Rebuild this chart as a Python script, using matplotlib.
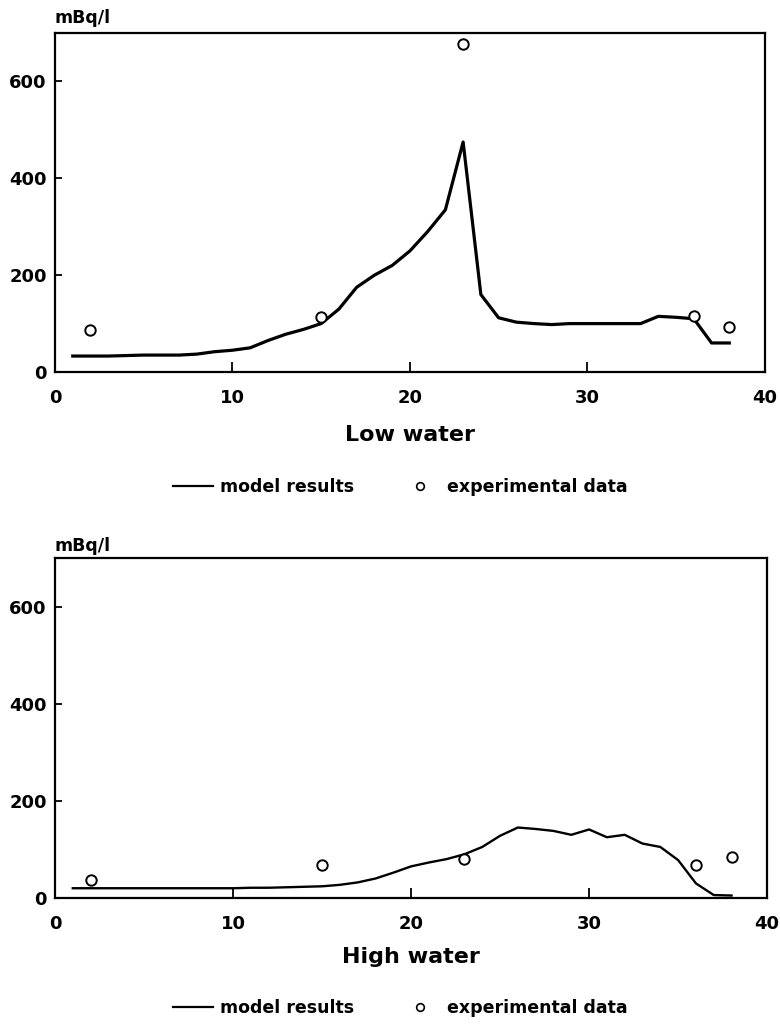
import matplotlib
matplotlib.use("Agg")
import matplotlib.pyplot as plt
from matplotlib.lines import Line2D

plt.rcParams['font.family'] = ['DejaVu Sans']
plt.rcParams['font.weight'] = 'bold'

# ---- data ----
model_x = list(range(1, 39))
low_model = [33, 33, 33, 34, 35, 35, 35, 37, 42, 45, 50, 65, 78, 88, 100, 130, 175, 200, 220,
             250, 290, 335, 475, 160, 112, 103, 100, 98, 100, 100, 100, 100, 100, 115, 113, 110, 60, 60]
high_model = [20, 20, 20, 20, 20, 20, 20, 20, 20, 20, 21, 21, 22, 23, 24, 27, 32, 40, 52,
              65, 73, 80, 90, 105, 128, 145, 142, 138, 130, 141, 125, 130, 112, 105, 78, 30, 6, 5]
exp_x = [2, 15, 23, 36, 38]
low_exp = [87, 113, 678, 116, 93]
high_exp = [37, 68, 80, 68, 84]
panel_titles = ["Low water", "High water"]
legend_labels = ["model results", "experimental data"]
x_ticks = [0, 10, 20, 30, 40]
y_ticks = [0, 200, 400, 600]
y_unit = "mBq/l"

W, H = 780, 1026
fig = plt.figure(figsize=(W / 100, H / 100), dpi=100)
positions = [[0.0705, 0.6374, 0.910, 0.3304], [0.0705, 0.1248, 0.913, 0.3314]]
models = [low_model, high_model]
exps = [low_exp, high_exp]
legend_px = [(173, 487), (173, 1008)]
unit_px = [(54, 18), (54, 546)]
line_w = [2.3, 1.7]
title_pad = [13, 10]

for i in range(2):
    ax = fig.add_axes(positions[i])
    ax.plot(model_x, models[i], color='black', lw=line_w[i], solid_joinstyle='round')
    ax.plot(exp_x, exps[i], linestyle='none', marker='o', markersize=7.5,
            markerfacecolor='white', markeredgecolor='black', markeredgewidth=1.4)
    ax.set_xlim(0, 40)
    ax.set_ylim(0, 700)
    ax.set_xticks(x_ticks)
    ax.set_yticks(y_ticks)
    ax.tick_params(axis='x', direction='in', length=7, width=1.3, labelsize=13, pad=12)
    ax.tick_params(axis='y', direction='in', length=5, width=1.3, labelsize=13, pad=6)
    for lab in ax.get_xticklabels() + ax.get_yticklabels():
        lab.set_fontweight('bold')
    for s in ax.spines.values():
        s.set_linewidth(1.6)
    ax.set_xlabel(panel_titles[i], fontsize=16, fontweight='bold', labelpad=title_pad[i])
    fig.text(unit_px[i][0] / W, 1 - unit_px[i][1] / H, y_unit, fontsize=12.5,
             fontweight='bold', ha='left', va='center')
    handles = [Line2D([], [], color='black', lw=1.6),
               Line2D([], [], linestyle='none', marker='o', markersize=5.5,
                      markerfacecolor='white', markeredgecolor='black', markeredgewidth=1.2)]
    fig.legend(handles, legend_labels, loc='center left',
               bbox_to_anchor=(legend_px[i][0] / W, 1 - legend_px[i][1] / H),
               bbox_transform=fig.transFigure, ncol=2, frameon=False,
               prop={'weight': 'bold', 'size': 12.5}, handlelength=2.3,
               columnspacing=2.65, handletextpad=0.4, borderpad=0, borderaxespad=0,
               numpoints=1)

fig.savefig("out.png", dpi=100)
